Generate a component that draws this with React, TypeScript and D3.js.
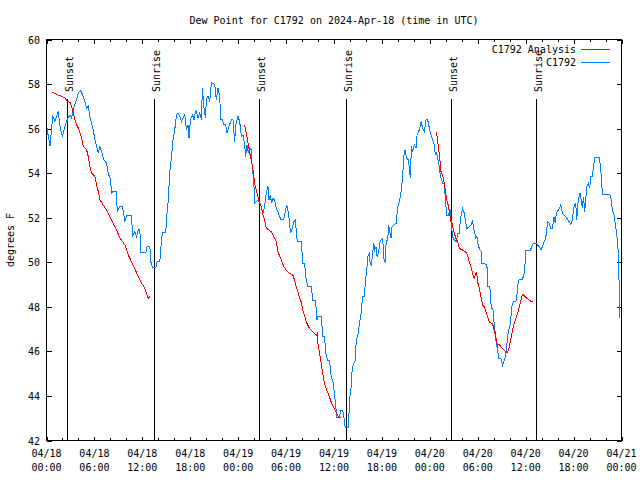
import React from "react";
import * as d3 from "d3";

const TITLE = "Dew Point for C1792 on 2024-Apr-18 (time in UTC)";
const Y_LABEL = "degrees F";
const SERIES_NAMES = ["C1792 Analysis", "C1792"];

const yTicks = [42, 44, 46, 48, 50, 52, 54, 56, 58, 60];
const xTickHours = [0, 6, 12, 18, 24, 30, 36, 42, 48, 54, 60, 66, 72];
const xTickDates = ["04/18", "04/18", "04/18", "04/18", "04/19", "04/19", "04/19", "04/19", "04/20", "04/20", "04/20", "04/20", "04/21"];
const xTickTimes = ["00:00", "06:00", "12:00", "18:00", "00:00", "06:00", "12:00", "18:00", "00:00", "06:00", "12:00", "18:00", "00:00"];

// hours after 2024-04-18 00:00 UTC
const sunEventHours = [2.6, 13.47, 26.6, 37.5, 50.65, 61.35];
const sunEventLabels = ["Sunset", "Sunrise", "Sunset", "Sunrise", "Sunset", "Sunrise"];

// observed dew point [hours, degF]
const observed: [number, number][] = [
  [0.02,56.10],[0.44,55.20],[0.77,56.55],[1.06,56.32],[1.48,56.77],[1.69,56.10],[1.98,55.65],[2.31,56.10],[2.6,56.40],[2.94,56.62],[3.15,56.47],[3.35,56.85],[3.69,57.22],[3.98,57.60],[4.27,57.70],[4.52,57.52],[4.81,57.22],[5.02,56.93],[5.23,57.00],[5.44,56.55],[5.65,56.25],[5.85,55.95],[6.06,55.50],[6.27,55.20],[6.48,54.90],[6.69,55.20],[6.9,54.97],[7.19,54.60],[7.52,54.45],[7.73,54.00],[8.02,53.70],[8.15,53.10],[8.35,53.18],[8.77,53.18],[8.85,52.28],[9.19,52.50],[9.52,52.50],[9.81,51.82],[10.1,52.12],[10.69,52.12],[10.73,51.15],[11.06,51.37],[11.27,51.15],[11.48,51.45],[11.69,51.45],[11.81,50.43],[12.44,50.43],[12.6,50.73],[12.94,50.73],[13.06,50.02],[13.27,49.77],[13.69,49.77],[13.85,50.02],[14.19,50.02],[14.4,51.00],[14.52,51.34],[14.94,51.34],[15.02,51.97],[15.23,52.72],[15.44,54.07],[15.65,54.75],[15.85,55.50],[16.06,55.95],[16.27,56.62],[16.48,56.70],[16.69,56.55],[16.9,56.32],[17.1,56.47],[17.31,56.62],[17.52,55.95],[17.73,56.17],[17.85,55.57],[18.02,56.40],[18.27,56.62],[18.48,56.40],[18.69,56.85],[18.98,56.47],[19.19,56.70],[19.4,56.40],[19.52,57.82],[19.69,57.00],[19.9,56.47],[20.02,57.30],[20.23,57.45],[20.44,57.22],[20.65,58.05],[21.06,57.98],[21.27,57.30],[21.48,57.82],[21.69,57.45],[21.81,56.40],[22.02,56.40],[22.19,56.17],[22.44,56.17],[22.6,55.80],[22.85,56.10],[23.15,56.40],[23.35,56.40],[23.56,55.42],[23.69,56.17],[23.98,56.55],[24.19,56.32],[24.4,55.65],[24.6,55.72],[24.81,55.27],[24.94,54.75],[25.1,55.27],[25.27,54.90],[25.44,55.12],[25.65,55.05],[25.77,54.15],[25.94,53.78],[26.06,52.65],[26.48,52.80],[26.77,52.65],[26.94,52.42],[27.1,52.20],[27.31,52.50],[27.52,53.10],[27.73,53.40],[27.85,52.80],[28.02,53.02],[28.19,52.65],[28.35,52.87],[28.56,52.80],[28.77,52.42],[28.98,52.28],[29.19,52.05],[29.4,51.90],[29.69,51.90],[29.94,52.35],[30.1,52.57],[30.31,52.20],[30.44,51.75],[30.56,51.30],[30.77,51.52],[30.98,51.82],[31.15,51.90],[31.27,51.45],[31.4,50.92],[31.9,50.92],[32.1,49.95],[32.31,49.95],[32.52,49.20],[32.73,48.93],[33.15,48.93],[33.35,48.30],[33.69,48.30],[33.85,47.40],[33.98,47.58],[34.4,47.58],[34.6,46.65],[34.81,46.65],[35.02,45.82],[35.23,45.60],[35.44,45.60],[35.65,44.85],[35.85,44.70],[36.06,44.10],[36.35,43.05],[36.69,43.05],[36.81,43.35],[37.1,43.35],[37.31,42.90],[37.4,42.60],[37.81,42.60],[37.94,43.80],[38.15,44.40],[38.27,45.15],[38.44,45.45],[38.69,45.60],[38.77,46.43],[38.98,46.72],[39.19,47.25],[39.4,47.70],[39.52,48.22],[39.6,48.45],[39.81,48.45],[39.94,49.20],[40.1,49.65],[40.23,50.25],[40.44,50.40],[40.52,49.95],[40.65,49.87],[40.77,50.17],[40.98,50.85],[41.1,50.55],[41.27,50.70],[41.4,50.25],[41.56,50.40],[41.77,50.92],[41.9,51.00],[42.1,51.07],[42.23,50.17],[42.44,49.95],[42.52,50.85],[42.73,51.07],[42.85,51.67],[43.02,51.30],[43.15,51.07],[43.27,51.60],[43.77,51.75],[43.9,52.20],[43.98,52.50],[44.19,52.72],[44.4,53.18],[44.6,53.85],[44.73,54.75],[44.9,55.05],[45.1,54.67],[45.31,54.60],[45.44,54.22],[45.56,53.78],[45.69,55.20],[45.85,54.97],[46.06,55.27],[46.27,55.12],[46.4,55.72],[46.69,55.95],[46.9,56.32],[47.1,56.02],[47.31,55.87],[47.52,56.40],[47.73,56.40],[47.94,56.02],[48.15,55.72],[48.35,55.50],[48.56,55.27],[48.69,54.82],[48.85,54.90],[48.98,54.67],[49.19,54.30],[49.27,54.00],[49.4,53.78],[49.6,53.55],[49.81,53.55],[49.94,52.87],[50.02,52.50],[50.1,52.12],[50.35,52.12],[50.52,52.35],[50.65,51.90],[50.77,51.45],[50.85,51.15],[51.06,51.00],[51.35,50.92],[51.48,51.30],[51.69,51.30],[51.77,51.67],[51.9,52.05],[52.1,52.42],[52.31,52.20],[52.44,51.90],[52.65,51.52],[52.94,51.60],[53.15,51.67],[53.35,51.90],[53.48,51.52],[53.65,51.30],[53.77,51.07],[53.9,51.15],[54.06,50.77],[54.27,50.55],[54.4,50.55],[54.52,49.95],[55.15,49.90],[55.23,48.90],[55.52,48.90],[55.65,48.15],[55.77,47.93],[55.94,47.85],[56.06,47.17],[56.19,46.87],[56.35,46.20],[56.48,46.20],[56.6,45.67],[56.9,45.67],[57.1,45.37],[57.23,45.52],[57.44,45.75],[57.6,46.12],[57.73,46.65],[57.85,46.95],[58.02,47.10],[58.15,47.55],[58.27,48.00],[58.44,48.22],[58.77,48.22],[58.9,48.52],[59.02,48.98],[59.19,49.23],[59.6,49.23],[59.81,49.50],[59.94,50.02],[60.02,50.52],[60.56,50.52],[60.77,50.70],[60.94,50.85],[61.35,50.85],[61.52,50.77],[61.69,50.70],[61.9,50.55],[62.1,50.70],[62.23,50.85],[62.44,51.00],[62.6,51.30],[62.73,51.82],[62.94,51.75],[63.15,51.52],[63.35,51.52],[63.56,52.05],[63.69,51.75],[63.85,52.23],[64.1,52.35],[64.4,52.57],[64.6,52.20],[65.02,52.05],[65.44,51.82],[65.65,51.70],[65.85,51.90],[65.98,52.35],[66.1,52.57],[66.27,52.65],[66.4,51.90],[66.52,52.57],[66.69,52.95],[66.81,53.10],[66.98,52.72],[67.1,52.42],[67.23,52.95],[67.4,52.28],[67.52,52.80],[67.65,53.40],[67.85,53.55],[68.02,53.33],[68.15,53.85],[68.35,53.85],[68.56,54.45],[68.65,54.72],[69.19,54.72],[69.31,54.45],[69.48,53.85],[69.6,53.05],[70.52,53.05],[70.65,52.95],[70.77,52.65],[70.85,52.35],[71.06,52.12],[71.27,51.60],[71.48,51.00],[71.6,50.40],[71.69,49.20],[71.77,47.50]
];

// analysis dew point, three overnight segments [hours, degF]
const analysisNight1: [number, number][] = [
  [0.73,57.65],[1.06,57.57],[1.48,57.50],[1.9,57.45],[2.31,57.37],[2.6,57.22],[2.94,57.18],[3.15,57.00],[3.35,56.73],[3.56,56.40],[3.77,56.17],[3.98,56.02],[4.19,55.80],[4.4,55.57],[4.6,55.20],[5.02,55.05],[5.23,54.75],[5.44,54.30],[5.65,54.00],[6.06,53.85],[6.27,53.47],[6.48,53.18],[6.69,52.80],[7.1,52.57],[7.52,52.35],[7.94,52.05],[8.35,51.75],[8.77,51.45],[9.19,51.10],[9.81,50.78],[10.31,50.28],[10.85,49.87],[11.27,49.54],[11.69,49.20],[12.31,48.83],[12.73,48.38],[12.94,48.45]
];
const analysisNight2: [number, number][] = [
  [24.81,56.17],[25.02,55.80],[25.23,55.35],[25.44,54.90],[25.65,54.60],[25.85,54.15],[26.06,53.55],[26.27,53.25],[26.48,52.95],[26.69,52.65],[26.9,52.50],[27.1,52.12],[27.31,51.90],[27.52,51.52],[27.73,51.48],[28.15,51.37],[28.56,51.07],[28.77,50.92],[28.98,50.47],[29.4,50.10],[29.73,49.80],[30.02,49.65],[30.44,49.50],[30.85,49.42],[31.06,49.20],[31.27,48.90],[31.48,48.67],[31.69,48.38],[31.9,48.22],[32.1,47.85],[32.31,47.62],[32.52,47.32],[32.73,47.17],[32.94,47.02],[33.35,46.87],[33.77,46.72],[33.9,46.80],[33.98,46.35],[34.19,45.90],[34.4,45.45],[34.6,45.00],[34.81,44.55],[35.1,44.25],[35.44,43.95],[35.65,43.72],[36.06,43.42],[36.35,43.20],[36.6,43.05],[36.81,43.02]
];
const analysisNight3: [number, number][] = [
  [48.77,55.85],[48.9,55.65],[49.06,55.20],[49.19,54.82],[49.31,54.45],[49.4,54.07],[49.6,53.92],[49.81,53.55],[49.94,53.25],[50.1,52.80],[50.23,52.65],[50.35,52.50],[50.44,52.27],[50.65,51.82],[50.77,51.75],[51.06,51.30],[51.27,51.07],[51.48,50.92],[51.69,50.62],[52.1,50.55],[52.52,50.45],[52.73,50.32],[52.94,50.02],[53.15,49.80],[53.35,49.50],[53.56,49.27],[53.69,49.42],[53.85,49.57],[53.98,49.12],[54.19,48.83],[54.4,48.45],[54.6,48.08],[54.81,48.00],[55.02,47.77],[55.23,47.55],[55.44,47.32],[55.65,47.28],[55.85,47.25],[56.06,46.95],[56.27,46.65],[56.48,46.27],[56.69,46.32],[56.9,46.20],[57.1,46.12],[57.31,46.05],[57.52,45.97],[57.73,45.95],[57.94,46.20],[58.15,46.57],[58.35,46.95],[58.56,47.25],[58.77,47.48],[58.98,47.70],[59.19,48.00],[59.4,48.30],[59.6,48.55],[59.81,48.52],[60.02,48.42],[60.44,48.30],[60.65,48.25],[60.94,48.25]
];

const RED = "#ff0000";
const BLUE = "#0080ff";
const FONT = "'DejaVu Sans Mono', 'Liberation Mono', monospace";

export default function App() {
  const x = d3.scaleLinear().domain([0, 72]).range([46.5, 621.5]);
  const y = d3.scaleLinear().domain([42, 60]).range([440.5, 39.5]);
  const line = d3.line<[number, number]>().x((d) => x(d[0])).y((d) => y(d[1]));
  const minorHours = d3.range(0, 73, 2).filter((h) => h % 6 !== 0);
  const top = y(60), bottom = y(42), left = x(0), right = x(72);

  return (
    <svg
      width={640}
      height={480}
      style={{ position: "absolute", left: 0, top: 0, background: "#fff" }}
      fontFamily={FONT}
      fontSize={10}
    >
      <rect x={0} y={0} width={640} height={480} fill="#fff" />
      <text x={(left + right) / 2} y={24} textAnchor="middle" fill="#000">{TITLE}</text>

      {/* ticks */}
      <g stroke="#000" strokeWidth={1} shapeRendering="crispEdges">
        {yTicks.map((t) => (
          <g key={"y" + t}>
            <line x1={left} x2={left + 5} y1={Math.round(y(t)) + 0.5} y2={Math.round(y(t)) + 0.5} />
            <line x1={right} x2={right - 5} y1={Math.round(y(t)) + 0.5} y2={Math.round(y(t)) + 0.5} />
          </g>
        ))}
        {xTickHours.map((h) => (
          <g key={"x" + h}>
            <line x1={Math.round(x(h)) + 0.5} x2={Math.round(x(h)) + 0.5} y1={bottom} y2={bottom - 4} />
            <line x1={Math.round(x(h)) + 0.5} x2={Math.round(x(h)) + 0.5} y1={top} y2={top + 4} />
          </g>
        ))}
        {minorHours.map((h) => (
          <g key={"m" + h}>
            <line x1={Math.round(x(h)) + 0.5} x2={Math.round(x(h)) + 0.5} y1={bottom} y2={bottom - 2.5} />
            <line x1={Math.round(x(h)) + 0.5} x2={Math.round(x(h)) + 0.5} y1={top} y2={top + 2.5} />
          </g>
        ))}
      </g>

      {/* tick labels */}
      {yTicks.map((t) => (
        <text key={"yl" + t} x={40} y={y(t) + 4} textAnchor="end" fill="#000">{t}</text>
      ))}
      {xTickHours.map((h, i) => (
        <g key={"xl" + h}>
          <text x={x(h)} y={457} textAnchor="middle" fill="#000">{xTickDates[i]}</text>
          <text x={x(h)} y={471} textAnchor="middle" fill="#000">{xTickTimes[i]}</text>
        </g>
      ))}
      <text transform={`translate(14,240) rotate(-90)`} textAnchor="middle" fill="#000">{Y_LABEL}</text>

      {/* sunrise / sunset */}
      {sunEventHours.map((h, i) => {
        const px = Math.round(x(h)) + 0.5;
        return (
          <g key={"sun" + i}>
            <line x1={px} x2={px} y1={99} y2={bottom} stroke="#000" strokeWidth={1} shapeRendering="crispEdges" />
            <text transform={`translate(${px + 5.5},92) rotate(-90)`} textAnchor="start" fill="#000">{sunEventLabels[i]}</text>
          </g>
        );
      })}

      {/* data */}
      <path d={line(observed) || ""} fill="none" stroke={BLUE} strokeWidth={1} shapeRendering="crispEdges" />
      {[analysisNight1, analysisNight2, analysisNight3].map((seg, i) => (
        <path key={"a" + i} d={line(seg) || ""} fill="none" stroke={RED} strokeWidth={1} shapeRendering="crispEdges" />
      ))}

      {/* frame */}
      <rect x={left} y={top} width={right - left} height={bottom - top} fill="none" stroke="#000" strokeWidth={1} shapeRendering="crispEdges" />

      {/* legend */}
      <text x={576} y={53} textAnchor="end" fill="#000">{SERIES_NAMES[0]}</text>
      <line x1={581} x2={610} y1={49.5} y2={49.5} stroke={RED} strokeWidth={1} shapeRendering="crispEdges" />
      <text x={576} y={66} textAnchor="end" fill="#000">{SERIES_NAMES[1]}</text>
      <line x1={581} x2={610} y1={62.5} y2={62.5} stroke={BLUE} strokeWidth={1} shapeRendering="crispEdges" />
    </svg>
  );
}
